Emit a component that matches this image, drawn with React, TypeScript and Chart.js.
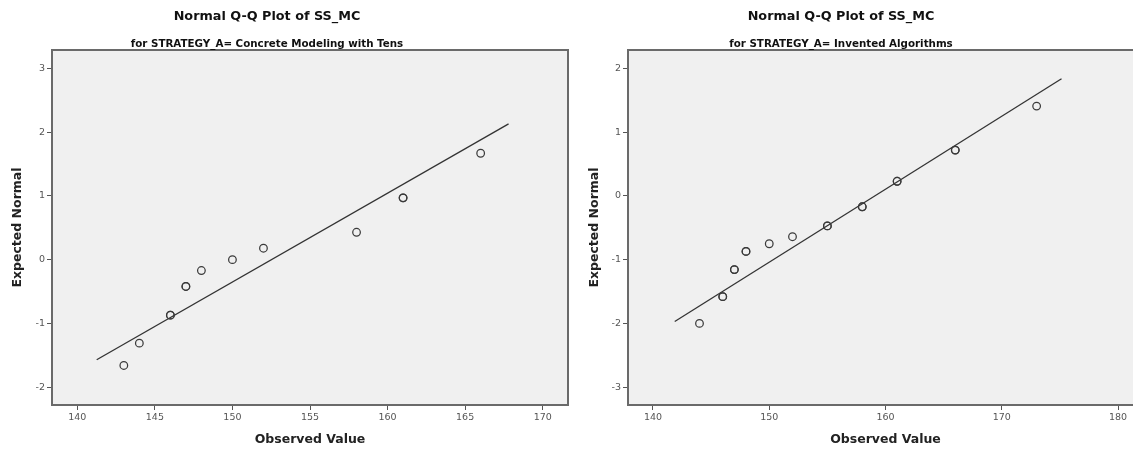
import React, { useEffect, useRef } from "react";
import { Chart, registerables } from "chart.js";

Chart.register(...registerables);

// ---------- data: left panel (Concrete Modeling with Tens) ----------
const leftObserved = [143, 144, 146, 147, 148, 150, 152, 158, 161, 166];
const leftExpected = [-1.66, -1.31, -0.87, -0.42, -0.17, 0.0, 0.18, 0.43, 0.97, 1.67];
const leftCounts = [1, 1, 2, 2, 1, 1, 1, 1, 2, 1];
const leftLineX = [141.25, 167.8];
const leftLineY = [-1.57, 2.13];
const leftXTicks = [140, 145, 150, 155, 160, 165, 170];
const leftYTicks = [-2, -1, 0, 1, 2, 3];
const leftXRange = [138.37, 171.63];
const leftYRange = [-2.28, 3.29];

// ---------- data: right panel (Invented Algorithms) ----------
const rightObserved = [144, 146, 147, 148, 150, 152, 155, 158, 161, 166, 173];
const rightExpected = [-2.0, -1.58, -1.155, -0.87, -0.75, -0.64, -0.47, -0.17, 0.23, 0.72, 1.41];
const rightCounts = [1, 2, 2, 2, 1, 1, 2, 2, 2, 2, 1];
const rightLineX = [141.87, 175.14];
const rightLineY = [-1.97, 1.84];
const rightXTicks = [140, 150, 160, 170, 180];
const rightYTicks = [-3, -2, -1, 0, 1, 2];
const rightXRange = [137.85, 182.15];
const rightYRange = [-3.28, 2.29];

const mainTitle = "Normal Q-Q Plot of SS_MC";
const leftSubtitle = "for STRATEGY_A= Concrete Modeling with Tens";
const rightSubtitle = "for STRATEGY_A= Invented Algorithms";
const xTitle = "Observed Value";
const yTitle = "Expected Normal";

const FONT = "'DejaVu Sans', 'Liberation Sans', sans-serif";

const framePlugin = {
  id: "frame",
  beforeDraw(chart: any) {
    const { ctx, chartArea } = chart;
    const { left, top, right, bottom } = chartArea;
    ctx.save();
    ctx.fillStyle = "#f0f0f0";
    ctx.fillRect(left, top, right - left, bottom - top);
    ctx.restore();
  },
  beforeDatasetsDraw(chart: any) {
    const { ctx, chartArea } = chart;
    const { left, top, right, bottom } = chartArea;
    ctx.save();
    ctx.strokeStyle = "#6a6a6a";
    ctx.lineWidth = 2;
    ctx.strokeRect(left, top, right - left, bottom - top);
    ctx.restore();
  },
};

function buildPoints(xs: number[], ys: number[], counts: number[]) {
  const pts: { x: number; y: number }[] = [];
  xs.forEach((x, i) => {
    for (let k = 0; k < counts[i]; k++) pts.push({ x, y: ys[i] });
  });
  return pts;
}

interface PanelProps {
  left: number;
  width: number;
  yAxisWidth: number;
  padRight: number;
  yTitleOffset: number;
  observed: number[];
  expected: number[];
  counts: number[];
  lineX: number[];
  lineY: number[];
  xTicks: number[];
  yTicks: number[];
  xRange: number[];
  yRange: number[];
}

function Panel(p: PanelProps) {
  const ref = useRef<HTMLCanvasElement | null>(null);
  useEffect(() => {
    if (!ref.current) return;
    const tickFont = { family: FONT, size: 9.5 };
    const titleFont = { family: FONT, size: 12.5, weight: "bold" as const };
    const chart = new Chart(ref.current, {
      type: "scatter",
      data: {
        datasets: [
          {
            data: buildPoints(p.observed, p.expected, p.counts),
            pointRadius: 3.8,
            pointBorderWidth: 1.25,
            pointBackgroundColor: "rgba(0,0,0,0)",
            pointBorderColor: "#3a3a3a",
            borderColor: "#3a3a3a",
            showLine: false,
          },
          {
            data: p.lineX.map((x, i) => ({ x, y: p.lineY[i] })),
            showLine: true,
            pointRadius: 0,
            borderColor: "#333",
            borderWidth: 1.3,
            fill: false,
          },
        ],
      },
      options: {
        animation: false,
        responsive: false,
        events: [],
        devicePixelRatio: 1,
        layout: { padding: { top: 50, right: p.padRight, left: 0, bottom: 0 } },
        plugins: { legend: { display: false }, tooltip: { enabled: false } },
        scales: {
          x: {
            type: "linear",
            min: p.xRange[0],
            max: p.xRange[1],
            afterBuildTicks: (s: any) => {
              s.ticks = p.xTicks.map((v) => ({ value: v }));
            },
            afterFit: (s: any) => {
              s.height = 45;
            },
            grid: { display: true, drawOnChartArea: false, drawTicks: true, tickLength: 5, color: "#555", lineWidth: 1 },
            border: { display: false },
            ticks: { font: tickFont, color: "#555", padding: 2, maxRotation: 0, autoSkip: false },
            title: { display: true, text: xTitle, font: titleFont, color: "#222", padding: { top: 0, bottom: 3 } },
          },
          y: {
            type: "linear",
            min: p.yRange[0],
            max: p.yRange[1],
            afterBuildTicks: (s: any) => {
              s.ticks = p.yTicks.map((v) => ({ value: v }));
            },
            afterFit: (s: any) => {
              s.width = p.yAxisWidth;
            },
            grid: { display: true, drawOnChartArea: false, drawTicks: true, tickLength: 5, color: "#555", lineWidth: 1 },
            border: { display: false },
            ticks: { font: tickFont, color: "#555", padding: 2, autoSkip: false },
            title: { display: true, text: yTitle, font: titleFont, color: "#222", padding: { top: p.yTitleOffset, bottom: 0 } },
          },
        },
      },
      plugins: [framePlugin],
    } as any);
    return () => chart.destroy();
  }, []);
  return (
    <canvas
      ref={ref}
      width={p.width}
      height={450}
      style={{ position: "absolute", left: p.left, top: 0, width: p.width, height: 450 }}
    />
  );
}

function Titles({ center, sub }: { center: number; sub: string }) {
  return (
    <>
      <div
        style={{
          position: "absolute",
          left: center - 250,
          width: 500,
          top: 8,
          height: 16,
          lineHeight: "16px",
          textAlign: "center",
          fontFamily: FONT,
          fontWeight: "bold",
          fontSize: 12.8,
          color: "#111",
          whiteSpace: "nowrap",
        }}
      >
        {mainTitle}
      </div>
      <div
        style={{
          position: "absolute",
          left: center - 250,
          width: 500,
          top: 37,
          height: 13,
          lineHeight: "13px",
          textAlign: "center",
          fontFamily: FONT,
          fontWeight: "bold",
          fontSize: 10.3,
          color: "#111",
          whiteSpace: "nowrap",
        }}
      >
        {sub}
      </div>
    </>
  );
}

export default function App() {
  return (
    <div
      style={{
        position: "fixed",
        left: 0,
        top: 0,
        width: 1133,
        height: 450,
        overflow: "hidden",
        background: "#fff",
      }}
    >
      <Panel
        left={0}
        width={600}
        yAxisWidth={52}
        padRight={32}
        yTitleOffset={10.3}
        observed={leftObserved}
        expected={leftExpected}
        counts={leftCounts}
        lineX={leftLineX}
        lineY={leftLineY}
        xTicks={leftXTicks}
        yTicks={leftYTicks}
        xRange={leftXRange}
        yRange={leftYRange}
      />
      <Panel
        left={575}
        width={575}
        yAxisWidth={53}
        padRight={7}
        yTitleOffset={11.8}
        observed={rightObserved}
        expected={rightExpected}
        counts={rightCounts}
        lineX={rightLineX}
        lineY={rightLineY}
        xTicks={rightXTicks}
        yTicks={rightYTicks}
        xRange={rightXRange}
        yRange={rightYRange}
      />
      <Titles center={267} sub={leftSubtitle} />
      <Titles center={841} sub={rightSubtitle} />
    </div>
  );
}
